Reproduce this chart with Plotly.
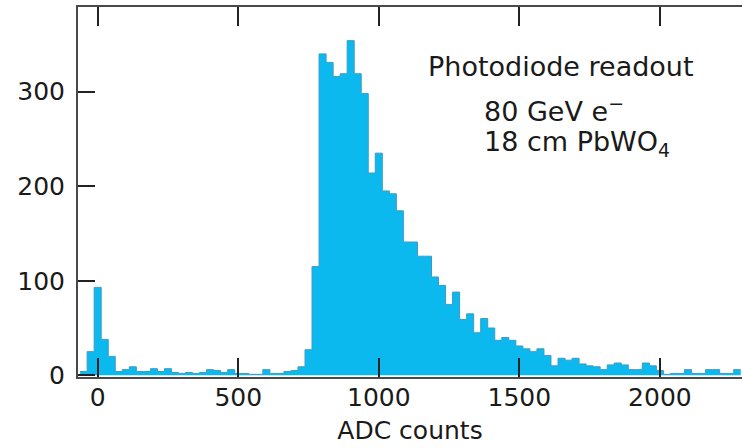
import plotly.graph_objects as go

# ---- data ----
bin_width = 25
bin_centers = list(range(-50, 2300, 25))
counts = [
    4, 25, 93, 38, 20, 4, 6, 9, 4, 4,          # -50 .. 175
    7, 4, 7, 3, 2, 3, 2, 3, 6, 5,              # 200 .. 425
    3, 6, 2, 2, 1, 1, 6, 2, 2, 4,              # 450 .. 675
    5, 9, 27, 115, 340, 331, 316, 319, 354, 319,  # 700 .. 925
    298, 214, 235, 195, 192, 174, 141, 141, 126, 126,  # 950 .. 1175
    104, 95, 75, 88, 59, 65, 45, 60, 50, 37,   # 1200 .. 1425
    40, 37, 31, 28, 25, 28, 21, 10, 18, 16,    # 1450 .. 1675
    18, 12, 10, 9, 6, 11, 13, 11, 6, 6,        # 1700 .. 1925
    13, 10, 5, 1, 2, 2, 6, 2, 2, 6,            # 1950 .. 2175
    6, 2, 2, 6,                                # 2200 .. 2275
]
x_ticks = [0, 500, 1000, 1500, 2000]
y_ticks = [0, 100, 200, 300]
x_title = "ADC counts"
label_lines = ["Photodiode readout", "80 GeV e<sup>\u2212</sup>", "18 cm PbWO<sub>4</sub>"]

# step outline built from bin edges
edges = [c - bin_width / 2 for c in bin_centers] + [bin_centers[-1] + bin_width / 2]
step_y = counts + [counts[-1]]

FILL = "#0cb9ee"
EDGE = "#3a9cc6"
FONT = "DejaVu Sans"
TXT = "#1a1a1a"

fig = go.Figure()
fig.add_trace(go.Scatter(
    x=edges, y=step_y, mode="lines", line_shape="hv",
    line=dict(color=EDGE, width=1), fill="tozeroy", fillcolor=FILL,
    hoverinfo="skip", showlegend=False,
))

fig.update_layout(
    width=742, height=448,
    margin=dict(l=78, r=0, t=7, b=71),
    paper_bgcolor="white", plot_bgcolor="white",
    font=dict(family=FONT, color=TXT, size=24),
    showlegend=False,
)

fig.update_xaxes(
    range=[-70, 2292],
    tickvals=x_ticks, ticktext=[str(v) for v in x_ticks],
    ticks="inside", ticklen=19, tickwidth=1.8, tickcolor="#222222",
    showline=True, linecolor="#4a4a4a", linewidth=2, mirror="ticks",
    showgrid=False, zeroline=False,
    tickfont=dict(family=FONT, size=25, color=TXT),
    ticklabelstandoff=-3,
    title=dict(text=x_title, font=dict(family=FONT, size=25, color=TXT), standoff=10),
)
fig.update_yaxes(
    range=[-1.8, 389.6],
    tickvals=y_ticks, ticktext=[str(v) for v in y_ticks],
    ticks="inside", ticklen=17, tickwidth=1.8, tickcolor="#222222",
    showline=True, linecolor="#4a4a4a", linewidth=2, mirror=False,
    showgrid=False, zeroline=False,
    tickfont=dict(family=FONT, size=25, color=TXT),
    ticklabelstandoff=6,
)

# text block
fig.add_annotation(text=label_lines[0], xref="paper", yref="paper",
                   x=(561 - 78) / 664, y=1 - (66 - 7) / 370,
                   xanchor="center", yanchor="middle", showarrow=False,
                   font=dict(family=FONT, size=27, color=TXT))
fig.add_annotation(text=label_lines[1], xref="paper", yref="paper",
                   x=(482 - 78) / 664, y=1 - (109 - 7) / 370,
                   xanchor="left", yanchor="middle", showarrow=False,
                   font=dict(family=FONT, size=27, color=TXT))
fig.add_annotation(text=label_lines[2], xref="paper", yref="paper",
                   x=(482 - 78) / 664, y=1 - (143 - 7) / 370,
                   xanchor="left", yanchor="middle", showarrow=False,
                   font=dict(family=FONT, size=27, color=TXT))

fig.write_html("out.html")
